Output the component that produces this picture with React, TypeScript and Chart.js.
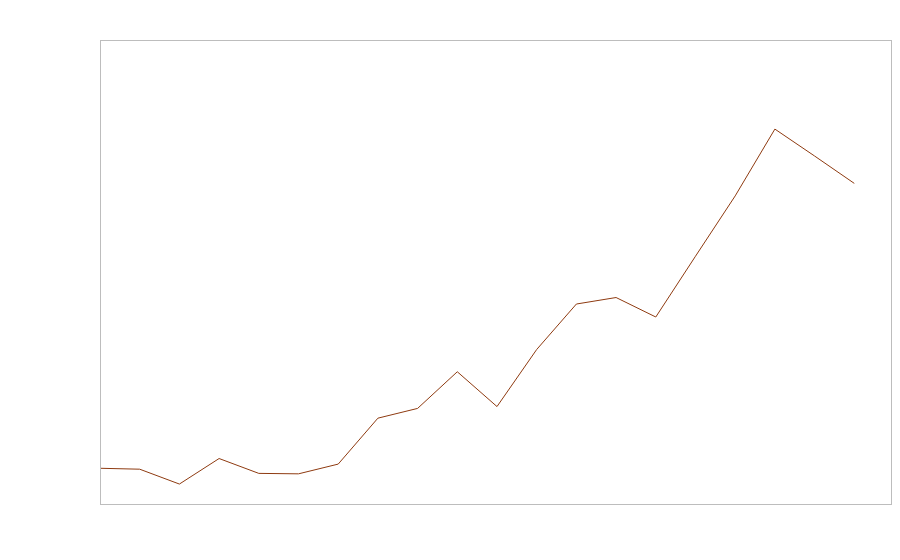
import React, { useEffect, useRef } from "react";
import { Chart, registerables } from "chart.js";

Chart.register(...registerables);

const categories = [0, 1, 2, 3, 4, 5, 6, 7, 8, 9, 10, 11, 12, 13, 14, 15, 16, 17, 18, 19];
const values = [7.7, 7.5, 4.3, 9.8, 6.6, 6.5, 8.6, 18.5, 20.6, 28.5, 21.0, 33.3, 43.1, 44.5, 40.3, 53.4, 66.4, 80.8, 75.0, 69.1];
const xRange = [0, 19.95];
const yRange = [0, 100];

const borderPlugin = {
  id: "areaBorder",
  afterDraw(chart: any) {
    const { ctx, chartArea } = chart;
    ctx.save();
    ctx.strokeStyle = "#bdbdbd";
    ctx.lineWidth = 1;
    ctx.strokeRect(chartArea.left + 0.5, chartArea.top + 0.5, chartArea.width - 1, chartArea.height);
    ctx.restore();
  },
};

export default function App() {
  const ref = useRef<HTMLCanvasElement | null>(null);
  useEffect(() => {
    if (!ref.current) return;
    const chart = new Chart(ref.current, {
      type: "line",
      data: {
        datasets: [
          {
            data: categories.map((c, i) => ({ x: c, y: values[i] })),
            borderColor: "#8e3a10",
            borderWidth: 1,
            pointRadius: 0,
            tension: 0,
            fill: false,
          },
        ],
      },
      options: {
        animation: false,
        responsive: true,
        maintainAspectRatio: false,
        layout: { padding: { left: 92, top: 32, right: 0, bottom: 48 } },
        plugins: { legend: { display: false }, tooltip: { enabled: false } },
        scales: {
          x: { type: "linear", min: xRange[0], max: xRange[1], display: false },
          y: { type: "linear", min: yRange[0], max: yRange[1], display: false },
        },
      },
      plugins: [borderPlugin],
    });
    return () => chart.destroy();
  }, []);
  return (
    <div style={{ width: 884, height: 544 }}>
      <canvas ref={ref} />
    </div>
  );
}
